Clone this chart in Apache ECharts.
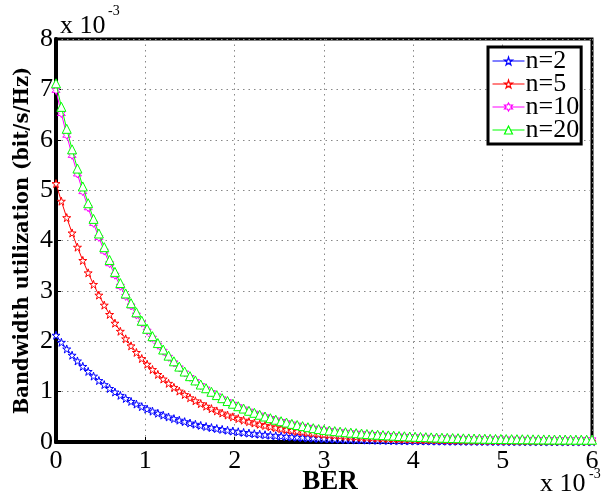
<!DOCTYPE html>
<html><head><meta charset="utf-8">
<script src="https://cdn.jsdelivr.net/npm/echarts/dist/echarts.min.js"></script>
<style>html,body{margin:0;padding:0;background:#fff}#c{width:605px;height:500px}</style>
</head><body><div id="c"></div>
<script>
// BER (x 10^-3)
const ber = [0,0.06,0.12,0.18,0.24,0.3,0.36,0.42,0.48,0.54,0.6,0.66,0.72,0.78,0.84,0.9,0.96,1.02,1.08,1.14,1.2,1.26,1.32,1.38,1.44,1.5,1.56,1.62,1.68,1.74,1.8,1.86,1.92,1.98,2.04,2.1,2.16,2.22,2.28,2.34,2.4,2.46,2.52,2.58,2.64,2.7,2.76,2.82,2.88,2.94,3,3.06,3.12,3.18,3.24,3.3,3.36,3.42,3.48,3.54,3.6,3.66,3.72,3.78,3.84,3.9,3.96,4.02,4.08,4.14,4.2,4.26,4.32,4.38,4.44,4.5,4.56,4.62,4.68,4.74,4.8,4.86,4.92,4.98,5.04,5.1,5.16,5.22,5.28,5.34,5.4,5.46,5.52,5.58,5.64,5.7,5.76,5.82,5.88,5.94,6];
// Bandwidth utilization (x 10^-3 bit/s/Hz)
const n2 = [2.12,1.979,1.847,1.723,1.609,1.501,1.401,1.308,1.22,1.139,1.063,0.992,0.926,0.864,0.806,0.753,0.702,0.656,0.612,0.571,0.533,0.497,0.464,0.433,0.404,0.377,0.352,0.329,0.307,0.286,0.267,0.25,0.233,0.218,0.203,0.19,0.177,0.165,0.154,0.144,0.134,0.125,0.117,0.109,0.102,0.095,0.089,0.083,0.077,0.072,0.067,0.063,0.059,0.055,0.052,0.049,0.046,0.043,0.04,0.038,0.036,0.034,0.032,0.03,0.028,0.027,0.025,0.024,0.023,0.021,0.02,0.019,0.018,0.017,0.016,0.016,0.015,0.014,0.014,0.013,0.013,0.012,0.012,0.011,0.011,0.01,0.01,0.01,0.009,0.009,0.009,0.008,0.008,0.008,0.008,0.007,0.007,0.007,0.007,0.007,0.006];
const n5 = [5.13,4.78,4.454,4.15,3.867,3.604,3.358,3.129,2.916,2.717,2.532,2.359,2.198,2.048,1.909,1.778,1.657,1.544,1.439,1.341,1.25,1.165,1.085,1.011,0.942,0.878,0.818,0.762,0.71,0.662,0.617,0.575,0.535,0.499,0.465,0.433,0.404,0.376,0.351,0.327,0.304,0.284,0.265,0.247,0.23,0.214,0.2,0.186,0.173,0.161,0.15,0.141,0.132,0.124,0.116,0.109,0.102,0.096,0.09,0.085,0.08,0.075,0.071,0.067,0.063,0.06,0.056,0.053,0.05,0.048,0.045,0.043,0.041,0.039,0.037,0.035,0.034,0.032,0.031,0.03,0.029,0.028,0.027,0.026,0.025,0.024,0.023,0.023,0.022,0.021,0.021,0.02,0.02,0.019,0.019,0.018,0.018,0.018,0.017,0.017,0.017];
const n10 = [6.98,6.52,6.09,5.69,5.32,4.97,4.65,4.34,4.06,3.79,3.54,3.31,3.09,2.89,2.7,2.52,2.36,2.2,2.06,1.92,1.8,1.68,1.57,1.47,1.37,1.28,1.2,1.12,1.05,0.98,0.915,0.855,0.8,0.748,0.699,0.653,0.611,0.571,0.533,0.499,0.466,0.436,0.407,0.381,0.356,0.333,0.311,0.291,0.272,0.254,0.238,0.225,0.213,0.202,0.192,0.182,0.173,0.164,0.156,0.148,0.141,0.134,0.128,0.122,0.116,0.111,0.106,0.101,0.097,0.093,0.089,0.085,0.082,0.079,0.076,0.073,0.07,0.068,0.066,0.064,0.062,0.06,0.058,0.057,0.055,0.054,0.053,0.052,0.051,0.05,0.049,0.048,0.047,0.046,0.045,0.045,0.044,0.043,0.043,0.042,0.042];
const n20 = [7.12,6.653,6.217,5.809,5.428,5.073,4.74,4.429,4.139,3.868,3.614,3.377,3.156,2.949,2.755,2.575,2.407,2.248,2.101,1.964,1.835,1.714,1.602,1.497,1.399,1.307,1.222,1.141,1.067,0.997,0.931,0.87,0.813,0.76,0.71,0.664,0.62,0.58,0.541,0.506,0.473,0.442,0.413,0.386,0.36,0.337,0.315,0.294,0.275,0.257,0.24,0.228,0.216,0.205,0.195,0.185,0.176,0.167,0.159,0.151,0.144,0.137,0.131,0.125,0.119,0.114,0.109,0.104,0.1,0.096,0.092,0.088,0.085,0.082,0.079,0.076,0.073,0.071,0.069,0.067,0.065,0.063,0.061,0.06,0.058,0.057,0.056,0.055,0.054,0.053,0.052,0.051,0.05,0.049,0.048,0.048,0.047,0.046,0.046,0.045,0.045];
const seriesNames = ['n=2','n=5','n=10','n=20'];
const xTicks = ['0','1','2','3','4','5','6'];
const yTicks = ['0','1','2','3','4','5','6','7','8'];

const SERIF = '"Liberation Serif", "DejaVu Serif", serif';
const SERIF2 = '"DejaVu Serif", "Liberation Serif", serif';
const star = 'path://M50,0 L61,35 L98,35 L68,57 L79,91 L50,70 L21,91 L32,57 L2,35 L39,35 Z';
const hexa = 'path://M50,0 L62,25 L93,25 L75,50 L93,75 L62,75 L50,100 L38,75 L7,75 L25,50 L7,25 L38,25 Z';
const styles = [
  {c:'#0000ff', sym: star, size: 8},
  {c:'#ff0000', sym: star, size: 8},
  {c:'#ff00ff', sym: hexa, size: 8},
  {c:'#00ff00', sym: 'triangle', size: 9}
];
const vals = [n2, n5, n10, n20];

const chart = echarts.init(document.getElementById('c'), null, {renderer:'canvas'});
chart.setOption({
  animation: false,
  backgroundColor: '#fff',
  grid: {left: 56, right: 13, top: 39, bottom: 58, show: true, borderColor: '#000', borderWidth: 3,
         backgroundColor: 'transparent', containLabel: false, outerBoundsMode: 'none'},
  legend: {
    orient: 'vertical', left: 488, top: 47,
    data: seriesNames,
    itemWidth: 32, itemHeight: 10, itemGap: -3,
    padding: [1, 2, 1, 4],
    borderColor: '#000', borderWidth: 3, backgroundColor: '#fff',
    lineStyle: {width: 1},
    itemStyle: {color: '#fff', borderWidth: 1.2},
    textStyle: {fontFamily: SERIF, fontSize: 26, color: '#000', padding: [0,0,0,-4]}
  },
  xAxis: {
    type: 'value', min: 0, max: 6, interval: 1,
    name: 'BER', nameLocation: 'middle', nameGap: 27, nameMoveOverlap: false,
    nameTextStyle: {fontFamily: SERIF, fontSize: 27, fontWeight: 'bold', color: '#000', padding: [0,0,0,12]},
    axisLine: {show: true, lineStyle: {color: '#000', width: 4}},
    axisTick: {show: true, inside: true, length: 5, lineStyle: {color: '#000', width: 1}},
    axisLabel: {fontFamily: SERIF, fontSize: 26, color: '#000', margin: 6, formatter: (v) => xTicks[Math.round(v)]},
    splitLine: {show: true, lineStyle: {color: '#888', width: 1, type: [1.5, 4]}}
  },
  yAxis: {
    type: 'value', min: 0, max: 8, interval: 1,
    name: 'Bandwidth utilization (bit/s/Hz)', nameLocation: 'middle', nameGap: 23, nameMoveOverlap: false,
    nameTextStyle: {fontFamily: SERIF2, fontSize: 19.5, fontWeight: 'bold', color: '#000'},
    axisLine: {show: true, lineStyle: {color: '#000', width: 4}},
    axisTick: {show: true, inside: true, length: 5, lineStyle: {color: '#000', width: 1}},
    axisLabel: {fontFamily: SERIF, fontSize: 26, color: '#000', margin: 3, formatter: (v) => yTicks[Math.round(v)]},
    splitLine: {show: true, lineStyle: {color: '#888', width: 1, type: [1.5, 4]}}
  },
  series: vals.map((d, k) => ({
    name: seriesNames[k], type: 'line',
    data: ber.map((x, i) => [x, d[i]]),
    symbol: styles[k].sym, symbolSize: styles[k].size, showSymbol: true, showAllSymbol: true,
    lineStyle: {color: styles[k].c, width: 1},
    itemStyle: {color: '#fff', borderColor: styles[k].c, borderWidth: 1},
    emphasis: {disabled: true},
    z: 2 + k
  })),
  graphic: [
    {type: 'text', left: 60, top: 13, style: {text: 'x 10', font: '26px ' + SERIF, fill: '#000'}},
    {type: 'text', left: 108, top: 4, style: {text: '-3', font: '14px ' + SERIF, fill: '#000'}},
    {type: 'text', left: 540, top: 471, style: {text: 'x 10', font: '26px ' + SERIF, fill: '#000'}},
    {type: 'text', left: 589, top: 467, style: {text: '-3', font: '14px ' + SERIF, fill: '#000'}}
  ]
});
</script>
</body></html>
